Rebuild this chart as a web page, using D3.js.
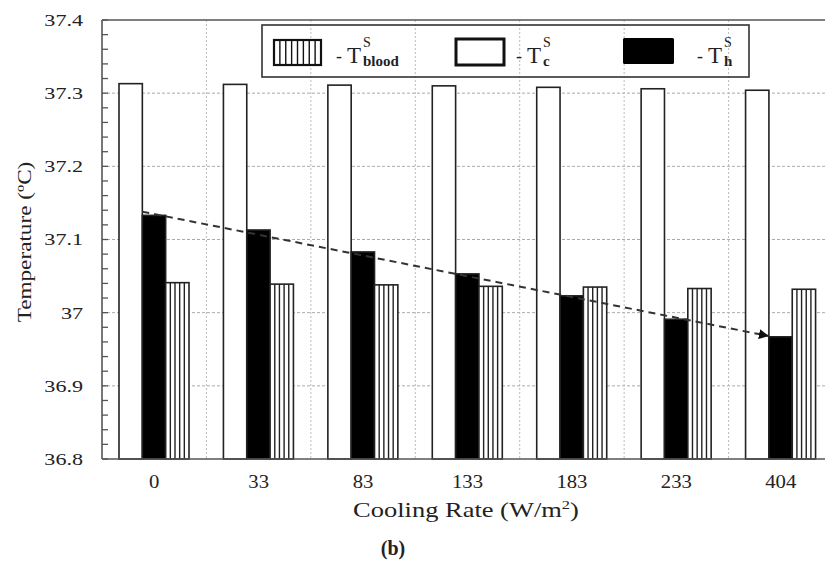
<!DOCTYPE html>
<html><head><meta charset="utf-8">
<script src="https://cdn.jsdelivr.net/npm/d3@7"></script>
<style>body{margin:0;background:#fff}svg{display:block}text{font-family:"Liberation Serif","Times New Roman",serif;fill:#222}</style>
</head><body><svg id="c" width="825" height="561"></svg>
<script>
const categories = ["0","33","83","133","183","233","404"];
const tC     = [37.313,37.312,37.311,37.310,37.308,37.306,37.304];
const tH     = [37.133,37.113,37.083,37.053,37.023,36.991,36.967];
const tBlood = [37.041,37.039,37.038,37.036,37.035,37.033,37.032];
const yTicks = [36.8,36.9,37,37.1,37.2,37.3,37.4];
const trendStart = 37.138, trendEnd = 36.968;

const svg = d3.select("#c");
const L=102, T=20, B=459, R=833;
const x = d3.scaleBand().domain(categories).range([L,R]);
const inner = d3.scaleBand().domain(["c","h","blood"]).range([17,87]);
const y = d3.scaleLinear().domain([36.8,37.4]).range([B,T]);
const bw = inner.bandwidth();

function stretch(sel, f){ sel.each(function(){ const w=this.getComputedTextLength(); d3.select(this).attr("textLength", w*f).attr("lengthAdjust","spacingAndGlyphs"); }); }

// grid
const g = svg.append("g");
g.selectAll(".hg").data(yTicks.filter(v=>v>36.8&&v<37.4)).join("line")
 .attr("x1",L).attr("x2",825).attr("y1",d=>y(d)).attr("y2",d=>y(d))
 .attr("stroke","#aaa").attr("stroke-width",1).attr("stroke-dasharray","3,2");
g.selectAll(".vg").data(categories.slice(1)).join("line")
 .attr("x1",d=>x(d)).attr("x2",d=>x(d)).attr("y1",T).attr("y2",B)
 .attr("stroke","#bbb").attr("stroke-width",1).attr("stroke-dasharray","2,2");

// bars
const rows = categories.map((c,i)=>({c, vals:[{k:"c",v:tC[i]},{k:"h",v:tH[i]},{k:"blood",v:tBlood[i]}]}));
const grp = svg.append("g").selectAll("g").data(rows).join("g").attr("transform",d=>`translate(${x(d.c)},0)`);
grp.selectAll("rect").data(d=>d.vals).join("rect")
 .attr("x",d=>inner(d.k)).attr("width",bw)
 .attr("y",d=>y(d.v)).attr("height",d=>B-y(d.v))
 .attr("fill",d=>d.k==="h"?"#000":"#fff")
 .attr("stroke","#222").attr("stroke-width",1.6);
grp.each(function(d){
  const b = d.vals[2];
  const sub = d3.select(this);
  const xs = d3.range(1,5).map(j=>inner("blood")+j*bw/5);
  sub.selectAll("line.h").data(xs).join("line").attr("class","h")
   .attr("x1",v=>v).attr("x2",v=>v).attr("y1",y(b.v)).attr("y2",B)
   .attr("stroke","#222").attr("stroke-width",1.4);
});

// trend arrow
svg.append("defs").append("marker").attr("id","arr").attr("viewBox","0 0 10 10")
 .attr("refX",10).attr("refY",5).attr("markerWidth",5).attr("markerHeight",5)
 .attr("orient","auto").attr("markerUnits","strokeWidth")
 .append("path").attr("d","M0,0L10,5L0,10Z").attr("fill","#111");
svg.append("line")
 .attr("x1",x(categories[0])+inner("h")).attr("y1",y(trendStart))
 .attr("x2",x(categories[6])+inner("h")).attr("y2",y(trendEnd))
 .attr("stroke","#333").attr("stroke-width",2).attr("stroke-dasharray","7,5")
 .attr("marker-end","url(#arr)");

// axes
const ax = svg.append("g").attr("stroke","#555").attr("stroke-width",1.6);
ax.append("line").attr("x1",L).attr("x2",825).attr("y1",T).attr("y2",T);
ax.append("line").attr("x1",L).attr("x2",825).attr("y1",B).attr("y2",B);
ax.append("line").attr("x1",L).attr("x2",L).attr("y1",T).attr("y2",B);
const minor = d3.range(0,31).map(i=>36.8+i*0.02);
svg.append("g").selectAll("line").data(minor).join("line")
 .attr("x1",L).attr("x2",L+6).attr("y1",d=>y(d)).attr("y2",d=>y(d))
 .attr("stroke","#555").attr("stroke-width",1.3);

const yAxis = svg.append("g").attr("transform",`translate(${L},0)`)
 .call(d3.axisLeft(y).tickValues(yTicks).tickSize(0).tickPadding(19).tickFormat(d=>String(+d.toFixed(1))));
yAxis.select(".domain").remove();
yAxis.selectAll("text").attr("font-size",17).attr("font-family","Liberation Serif").attr("fill","#333");
stretch(yAxis.selectAll("text"),1.3);

const xAxis = svg.append("g").attr("transform",`translate(0,${B})`)
 .call(d3.axisBottom(x).tickSize(0).tickPadding(16));
xAxis.select(".domain").remove();
xAxis.selectAll("text").attr("font-size",18).attr("font-family","Liberation Serif").attr("fill","#333");
stretch(xAxis.selectAll("text"),1.15);

// titles
const xt = svg.append("text").attr("x",466).attr("y",517).attr("text-anchor","middle").attr("font-size",21).attr("fill","#333");
xt.append("tspan").text("Cooling Rate (W/m");
xt.append("tspan").attr("font-size",13).attr("dy",-8).text("2");
xt.append("tspan").attr("dy",8).text(")");
stretch(xt,1.26);
const yt = svg.append("text").attr("transform","translate(31,242) rotate(-90)").attr("text-anchor","middle").attr("font-size",19).attr("fill","#222").text("Temperature (ºC)");
stretch(yt,1.22);
svg.append("text").attr("x",393).attr("y",555).attr("text-anchor","middle").attr("font-size",20).attr("font-weight","bold").attr("fill","#222").text("(b)");

// legend
const lg = svg.append("g");
lg.append("rect").attr("x",262).attr("y",25).attr("width",487).attr("height",52).attr("fill","none").attr("stroke","#333").attr("stroke-width",1.6);
lg.append("rect").attr("x",274).attr("y",40).attr("width",47).attr("height",25).attr("fill","#fff").attr("stroke","#111").attr("stroke-width",2.2);
lg.selectAll("line.s").data(d3.range(1,8)).join("line").attr("class","s")
 .attr("x1",d=>274+d*47/8).attr("x2",d=>274+d*47/8).attr("y1",40).attr("y2",65).attr("stroke","#111").attr("stroke-width",1.4);
lg.append("rect").attr("x",456).attr("y",39).attr("width",48).attr("height",26).attr("fill","#fff").attr("stroke","#111").attr("stroke-width",3);
lg.append("rect").attr("x",623).attr("y",38).attr("width",51).attr("height",26).attr("rx",1.5).attr("fill","#000");
function legText(x0, sub){
  lg.append("text").attr("x",x0).attr("y",62).attr("font-family","DejaVu Serif").attr("font-size",18).attr("fill","#222").text("-");
  lg.append("text").attr("x",x0+11).attr("y",63).attr("font-family","DejaVu Serif").attr("font-size",23).attr("fill","#222").text("T");
  lg.append("text").attr("x",x0+27).attr("y",47).attr("font-family","DejaVu Serif").attr("font-size",14).attr("fill","#222").text("S");
  lg.append("text").attr("x",x0+27).attr("y",66).attr("font-family","DejaVu Serif").attr("font-size",15).attr("font-weight","bold").attr("fill","#222").text(sub);
}
legText(336,"blood");
legText(516,"c");
legText(697,"h");
</script></body></html>
